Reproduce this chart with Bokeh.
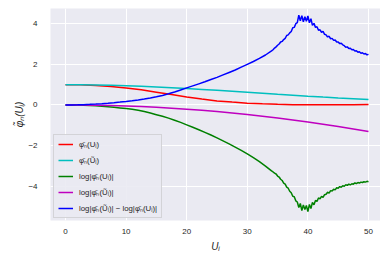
from bokeh.plotting import figure
from bokeh.models import Range1d, FixedTicker, Legend, LegendItem
from bokeh.embed import file_html
from bokeh.resources import INLINE

# smooth curves
u_smooth = [0, 2.5, 5, 7.5, 10, 12.5, 15, 17.5, 20, 22.5, 25, 27.5, 30,
            32.5, 35, 37.5, 40, 42.5, 45, 47.5, 50]
phi_u = [1.0, 0.99, 0.96, 0.91, 0.84, 0.75, 0.63, 0.51, 0.39, 0.29, 0.2,
         0.14, 0.09, 0.06, 0.035, 0.015, 0.008, 0.007, 0.01, 0.015, 0.02]
phi_ut = [1.0, 0.997, 0.987, 0.971, 0.949, 0.921, 0.889, 0.852, 0.811,
          0.767, 0.72, 0.673, 0.624, 0.575, 0.526, 0.479, 0.432, 0.388,
          0.346, 0.307, 0.27]
log_phi_ut = [0.0, -0.003, -0.013, -0.03, -0.052, -0.082, -0.118, -0.16,
              -0.21, -0.265, -0.328, -0.396, -0.47, -0.553, -0.642, -0.737,
              -0.84, -0.946, -1.06, -1.18, -1.31]

# noisy curves
u_noisy = [float(i) for i in range(0, 35)] + [34 + 0.25 * k for k in range(1, 65)]
log_phi_u = [0, -0.002, -0.007, -0.016, -0.03, -0.045, -0.065, -0.09, -0.115,
             -0.145, -0.175, -0.21, -0.26, -0.32, -0.4, -0.48, -0.56, -0.65,
             -0.75, -0.86, -0.98, -1.1, -1.22, -1.35, -1.48, -1.62, -1.77,
             -1.92, -2.08, -2.24, -2.41, -2.59, -2.79, -3.01, -3.25,
             -3.30, -3.36, -3.40, -3.50, -3.55, -3.66, -3.72, -3.85, -3.90,
             -4.05, -4.10, -4.25, -4.32, -4.50, -4.52, -4.72, -4.78, -5.05,
             -4.85, -5.20, -4.92, -5.15, -4.95, -5.25, -4.90, -5.10, -4.80,
             -4.92, -4.70, -4.75, -4.58, -4.62, -4.50, -4.55, -4.42, -4.40,
             -4.30, -4.34, -4.22, -4.24, -4.15, -4.18, -4.08, -4.10, -4.02,
             -4.05, -3.98, -4.00, -3.93, -3.96, -3.90, -3.94, -3.88, -3.90,
             -3.84, -3.87, -3.82, -3.85, -3.80, -3.82, -3.78, -3.80, -3.76,
             -3.78]
log_diff = [0, 0.002, 0.007, 0.016, 0.03, 0.045, 0.065, 0.088, 0.113, 0.14,
            0.17, 0.205, 0.245, 0.29, 0.34, 0.40, 0.47, 0.55, 0.64, 0.74,
            0.84, 0.94, 1.04, 1.14, 1.25, 1.36, 1.48, 1.60, 1.72, 1.86, 2.0,
            2.14, 2.29, 2.46, 2.66,
            2.72, 2.80, 2.86, 2.94, 3.00, 3.10, 3.13, 3.22, 3.28, 3.42, 3.45,
            3.55, 3.62, 3.80, 3.82, 4.00, 4.05, 4.42, 4.15, 4.40, 4.10, 4.35,
            4.12, 4.38, 4.05, 4.25, 3.92, 4.02, 3.82, 3.85, 3.68, 3.70, 3.58,
            3.62, 3.48, 3.45, 3.35, 3.38, 3.26, 3.28, 3.18, 3.20, 3.10, 3.10,
            3.02, 3.04, 2.96, 2.92, 2.84, 2.86, 2.78, 2.79, 2.72, 2.73, 2.66,
            2.67, 2.60, 2.62, 2.55, 2.57, 2.51, 2.53, 2.47, 2.49]

x_ticks = [0, 10, 20, 30, 40, 50]
y_ticks = [-4, -2, 0, 2, 4]

labels = ["φ̄ₙ(Uᵢ)", "φ̄ₙ(Ũᵢ)", "log|φ̄ₙ(Uᵢ)|", "log|φ̄ₙ(Ũᵢ)|",
          "log|φ̄ₙ(Ũᵢ)| − log|φ̄ₙ(Uᵢ)|"]
colors = ["#ff0000", "#00bfbf", "#008000", "#bf00bf", "#0000ff"]

FONT = "Liberation Sans"
TXT = "#262626"

p = figure(width=380, height=258, output_backend="svg", toolbar_location=None,
           x_range=Range1d(-2.475, 51.98), y_range=Range1d(-5.69, 4.75),
           min_border_left=50, min_border_right=0, min_border_top=8,
           min_border_bottom=38)
p.background_fill_color = "#eaeaf2"
p.border_fill_color = "white"
p.outline_line_color = None

for ax in (p.xaxis[0], p.yaxis[0]):
    ax.axis_line_color = None
    ax.major_tick_line_color = None
    ax.minor_tick_line_color = None
    ax.major_label_text_font = FONT
    ax.major_label_text_font_size = "8px"
    ax.major_label_text_color = TXT
    ax.axis_label_text_font = FONT
    ax.axis_label_text_font_size = "10px"
    ax.axis_label_text_color = TXT
    ax.axis_label_text_font_style = "italic"

p.xaxis.ticker = FixedTicker(ticks=x_ticks)
p.yaxis.ticker = FixedTicker(ticks=y_ticks)
p.yaxis.major_label_overrides = {-4: "−4", -2: "−2"}
p.xaxis.major_label_standoff = 2
p.yaxis.major_label_standoff = 7
p.xaxis.axis_label = "Uᵢ"
p.yaxis.axis_label = "φ̃ₙ(Uᵢ)"
p.xaxis.axis_label_standoff = 4
p.yaxis.axis_label_standoff = 0

p.xgrid.grid_line_color = "white"
p.ygrid.grid_line_color = "white"
p.xgrid.grid_line_width = 1
p.ygrid.grid_line_width = 1

r1 = p.line(u_smooth, phi_u, line_color=colors[0], line_width=1.5)
r2 = p.line(u_smooth, phi_ut, line_color=colors[1], line_width=1.5)
r3 = p.line(u_noisy, log_phi_u, line_color=colors[2], line_width=1.5)
r4 = p.line(u_smooth, log_phi_ut, line_color=colors[3], line_width=1.5)
r5 = p.line(u_noisy, log_diff, line_color=colors[4], line_width=1.5)

legend = Legend(items=[LegendItem(label=l, renderers=[r])
                       for l, r in zip(labels, [r1, r2, r3, r4, r5])],
                location=(3, 2))
legend.label_text_font = FONT
legend.label_text_font_size = "7.8px"
legend.label_text_color = TXT
legend.glyph_width = 15
legend.glyph_height = 10
legend.label_height = 10
legend.spacing = 6
legend.padding = 4
legend.margin = 0
legend.label_standoff = 6
legend.background_fill_color = "#eaeaf2"
legend.background_fill_alpha = 0.9
legend.border_line_color = "#bbbbbb"
legend.border_line_width = 1
p.add_layout(legend, "center")

open("out.html", "w").write(file_html(p, INLINE))
